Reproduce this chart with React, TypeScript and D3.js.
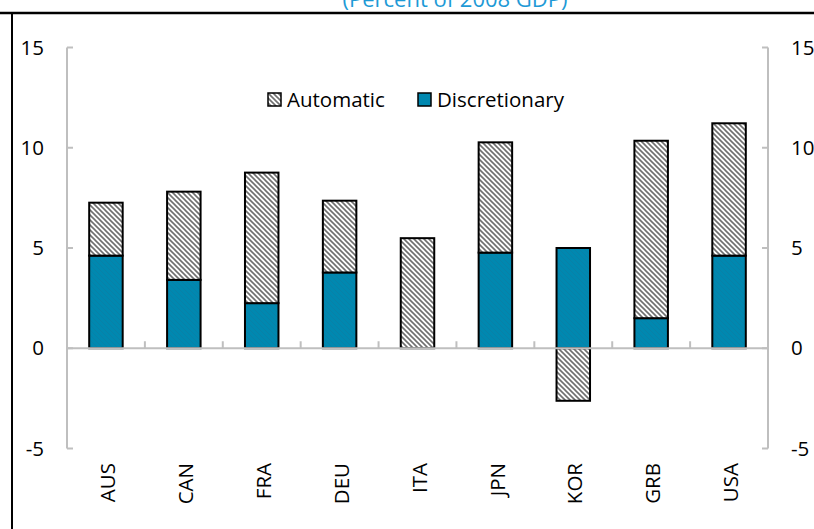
import React from "react";
import * as d3 from "d3";

const categories = ["AUS", "CAN", "FRA", "DEU", "ITA", "JPN", "KOR", "GRB", "USA"];
const discretionary = [4.62, 3.41, 2.25, 3.78, 0, 4.77, 5.0, 1.5, 4.62];
const automatic = [2.64, 4.4, 6.51, 3.58, 5.49, 5.5, -2.62, 8.85, 6.6];
const yTicks = [-5, 0, 5, 10, 15];
const titleText = "(Percent of 2008 GDP)";
const legendLabels = ["Automatic", "Discretionary"];

const W = 814;
const H = 529;
const BLUE = "#0088B0";
const AXIS = "#BFBFBF";
const FONT = "'Open Sans', 'Noto Sans', sans-serif";
const FS = 20.5;

export default function App() {
  const x = d3.scaleBand<string>().domain(categories).range([67, 768]).paddingInner(0).paddingOuter(0);
  const y = d3.scaleLinear().domain([-5, 15]).range([448.5, 47.5]);
  const bw = x.bandwidth() * 0.43;

  const segs: { c: string; y0: number; y1: number; kind: string }[] = [];
  categories.forEach((c, i) => {
    const d = discretionary[i];
    const a = automatic[i];
    if (d !== 0) segs.push({ c, y0: 0, y1: d, kind: "d" });
    if (a > 0) segs.push({ c, y0: Math.max(d, 0), y1: Math.max(d, 0) + a, kind: "a" });
    else if (a < 0) segs.push({ c, y0: Math.min(d, 0), y1: Math.min(d, 0) + a, kind: "a" });
  });

  const boundaries = d3.range(1, categories.length).map((i) => 67 + i * x.bandwidth());

  return (
    <svg width={W} height={H} style={{ position: "absolute", left: 0, top: 0, background: "#fff" }}>
      <defs>
        <pattern id="hatch" patternUnits="userSpaceOnUse" width="5" height="5">
          <rect width="5" height="5" fill="#fff" />
          <path d="M-1,-1 L6,6 M-1,4 L1,6 M4,-1 L6,1" stroke="#707070" strokeWidth="1.6" />
        </pattern>
        <pattern id="bluehatch" patternUnits="userSpaceOnUse" width="5" height="5">
          <rect width="5" height="5" fill={BLUE} />
          <path d="M-1,-1 L6,6 M-1,4 L1,6 M4,-1 L6,1" stroke="#0A80A6" strokeWidth="1" />
        </pattern>
      </defs>
      <rect x={0} y={0} width={W} height={H} fill="#fff" />
      <text x={455} y={7} textAnchor="middle" fill="#1E9AD6" fontFamily={FONT} fontSize={22}>
        {titleText}
      </text>
      <line x1={0} x2={W} y1={13} y2={13} stroke="#000" strokeWidth={2.5} />
      <line x1={12} x2={12} y1={13} y2={H} stroke="#000" strokeWidth={2} />

      {/* axes */}
      <line x1={67} x2={67} y1={y(15)} y2={y(-5)} stroke={AXIS} strokeWidth={2} />
      <line x1={768} x2={768} y1={y(15)} y2={y(-5)} stroke={AXIS} strokeWidth={2} />
      {yTicks.map((t) => (
        <g key={t}>
          <line x1={67} x2={73} y1={y(t)} y2={y(t)} stroke={AXIS} strokeWidth={2} />
          <line x1={762} x2={768} y1={y(t)} y2={y(t)} stroke={AXIS} strokeWidth={2} />
          <text x={44} y={y(t)} dy="0.35em" textAnchor="end" fontFamily={FONT} fontSize={FS} fill="#000">
            {t}
          </text>
          <text x={791} y={y(t)} dy="0.35em" textAnchor="start" fontFamily={FONT} fontSize={FS} fill="#000">
            {t}
          </text>
        </g>
      ))}

      {/* bars */}
      {segs.map((s, i) => {
        const cx = (x(s.c) as number) + x.bandwidth() / 2;
        const top = y(Math.max(s.y0, s.y1));
        const bot = y(Math.min(s.y0, s.y1));
        return (
          <rect
            key={i}
            x={cx - bw / 2}
            y={top}
            width={bw}
            height={bot - top}
            fill={s.kind === "d" ? "url(#bluehatch)" : "url(#hatch)"}
            stroke="#000"
            strokeWidth={2}
          />
        );
      })}

      {/* zero line */}
      <line x1={67} x2={768} y1={y(0)} y2={y(0)} stroke={AXIS} strokeWidth={2} />
      {boundaries.map((b, i) => (
        <line key={i} x1={b} x2={b} y1={y(0)} y2={y(0) - 7} stroke={AXIS} strokeWidth={2} />
      ))}

      {/* category labels */}
      {categories.map((c) => {
        const cx = (x(c) as number) + x.bandwidth() / 2;
        return (
          <text
            key={c}
            transform={`translate(${cx + 2},463) rotate(-90)`}
            textAnchor="end"
            dy="0.35em"
            fontFamily={FONT}
            fontSize={FS}
            fill="#000"
          >
            {c}
          </text>
        );
      })}

      {/* legend */}
      <rect x={268} y={93} width={13} height={13} fill="url(#hatch)" stroke="#000" strokeWidth={1.5} />
      <text x={287} y={100} dy="0.35em" fontFamily={FONT} fontSize={FS} fill="#000">
        {legendLabels[0]}
      </text>
      <rect x={418} y={93} width={13} height={13} fill={BLUE} stroke="#000" strokeWidth={1.5} />
      <text x={437} y={100} dy="0.35em" fontFamily={FONT} fontSize={FS} fill="#000">
        {legendLabels[1]}
      </text>
    </svg>
  );
}
